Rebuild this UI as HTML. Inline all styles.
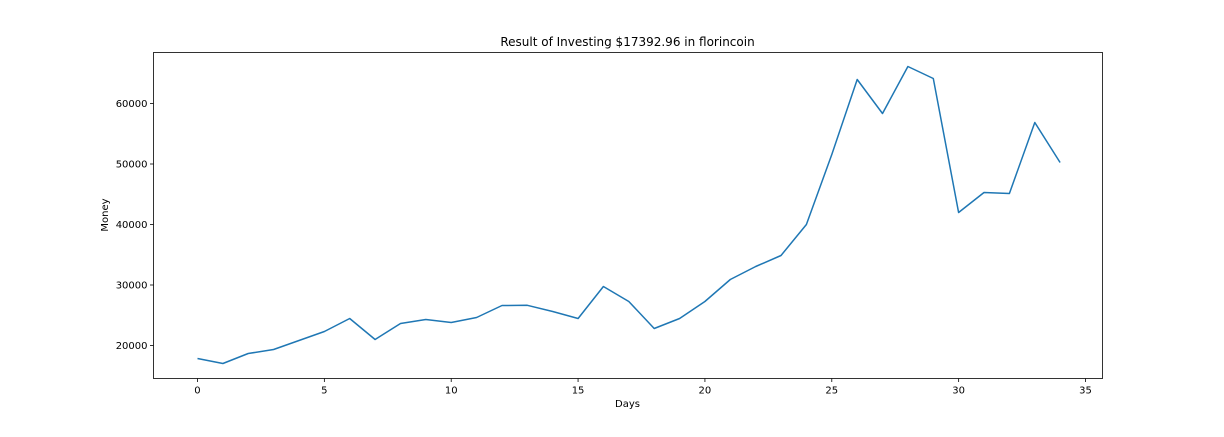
<!DOCTYPE html>
<html><head><meta charset="utf-8"><style>
body{margin:0;background:#fff;width:1224px;height:432px;overflow:hidden}
text{font-family:"DejaVu Sans","Liberation Sans",sans-serif;fill:#000}
</style></head><body>
<svg id="chart" width="1224" height="432" xmlns="http://www.w3.org/2000/svg">
<text x="627.5" y="46" font-size="12" text-anchor="middle">Result of Investing $17392.96 in florincoin</text>
<text x="627.5" y="407" font-size="10" text-anchor="middle">Days</text>
<text x="108" y="215" font-size="10" text-anchor="middle" transform="rotate(-90 108 215)">Money</text>
<g id="ticks"></g>
<path id="line" fill="none" stroke="#1f77b4" stroke-width="1.5" stroke-linejoin="round"/>
<rect x="153.5" y="52.5" width="949" height="326" fill="none" stroke="#000" stroke-width="0.8"/>
</svg>
<script>
const days = [0,1,2,3,4,5,6,7,8,9,10,11,12,13,14,15,16,17,18,19,20,21,22,23,24,25,26,27,28,29,30,31,32,33,34];
const money = [17850,17030,18680,19340,20830,22310,24460,20990,23640,24300,23800,24630,26610,26650,25620,24460,29750,27270,22810,24460,27270,30910,33060,34880,40000,51570,63970,58350,66120,64130,41980,45290,45120,56860,50250];
const xTicks = [0,5,10,15,20,25,30,35];
const yTicks = [20000,30000,40000,50000,60000];
const L=153.5,R=1102.5,T=52.5,B=378.5;
const x0=-1.734,x1=35.67,y0=14545,y1=68430;
const sx=v=>L+(v-x0)/(x1-x0)*(R-L);
const sy=v=>B-(v-y0)/(y1-y0)*(B-T);
const ns="http://www.w3.org/2000/svg";
const g=document.getElementById('ticks');
function mk(tag,attrs){const e=document.createElementNS(ns,tag);for(const k in attrs)e.setAttribute(k,attrs[k]);return e;}
xTicks.forEach(t=>{
  const l=mk('line',{x1:sx(t),x2:sx(t),y1:B,y2:B+3.5,stroke:'#000','stroke-width':0.8});
  
  
  g.appendChild(l);
  const tx=mk('text',{x:sx(t),y:B+15,'font-size':10,'text-anchor':'middle'});
  
  
  tx.textContent=t;g.appendChild(tx);
});
yTicks.forEach(t=>{
  const l=mk('line',{x1:L-3.5,x2:L,y1:sy(t),y2:sy(t),stroke:'#000','stroke-width':0.8});
  
  
  g.appendChild(l);
  const tx=mk('text',{x:L-6,y:sy(t)+3.5,'font-size':10,'text-anchor':'end'});
  
  
  tx.textContent=t;g.appendChild(tx);
});
document.getElementById('line').setAttribute('d',days.map((d,i)=>(i?'L':'M')+sx(d).toFixed(1)+','+sy(money[i]).toFixed(1)).join(''));
</script>
</body></html>
